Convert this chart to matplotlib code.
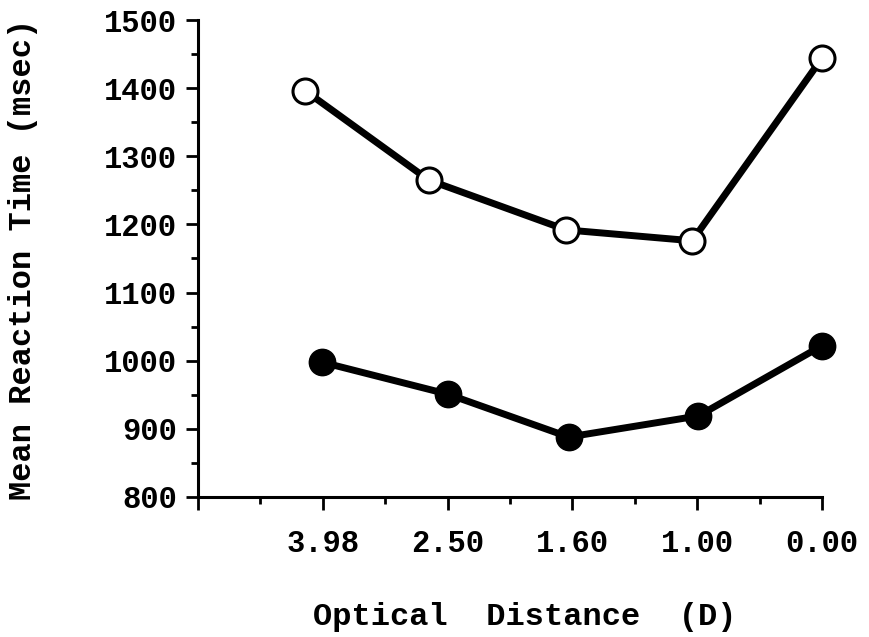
import matplotlib
matplotlib.use("Agg")
import matplotlib.pyplot as plt
from matplotlib.ticker import MultipleLocator, FixedLocator

# categories along the x axis (equally spaced)
cat_pos = [0, 1, 2, 3, 4, 5]
cat_labels = ["", "3.98", "2.50", "1.60", "1.00", "0.00"]

# open circles (upper series)
open_x = [0.86, 1.85, 2.95, 3.96, 5.0]
open_rt = [1396, 1265, 1192, 1176, 1444]

# filled circles (lower series)
filled_x = [0.99, 2.0, 2.97, 4.01, 5.0]
filled_rt = [998, 951, 888, 919, 1022]

FONT = "Liberation Mono"
TICK_FS = 22
LABEL_FS = 23

fig = plt.figure(figsize=(8.7, 6.37), dpi=100)
ax = fig.add_axes([0.2276, 0.2198, 0.7172, 0.7488])

ax.plot(open_x, open_rt, color="black", lw=5, marker="o", ms=18,
        mfc="white", mec="black", mew=2.2, clip_on=False, zorder=3)
ax.plot(filled_x, filled_rt, color="black", lw=5, marker="o", ms=19,
        mfc="black", mec="black", clip_on=False, zorder=3)

ax.set_xlim(0, 5)
ax.set_ylim(800, 1500)
for s in ("top", "right"):
    ax.spines[s].set_visible(False)
for s in ("left", "bottom"):
    ax.spines[s].set_linewidth(2.2)

ax.xaxis.set_major_locator(FixedLocator(cat_pos))
ax.set_xticklabels(cat_labels)
ax.xaxis.set_minor_locator(FixedLocator([0.5, 1.5, 2.5, 3.5, 4.5]))
ax.yaxis.set_major_locator(MultipleLocator(100))
ax.yaxis.set_minor_locator(MultipleLocator(50))

ax.tick_params(axis="both", which="major", length=9, width=2, direction="out")
ax.tick_params(axis="both", which="minor", length=5, width=2, direction="out")
ax.tick_params(axis="x", which="major", pad=14)
ax.tick_params(axis="y", which="major", pad=6)
for lab in ax.get_xticklabels() + ax.get_yticklabels():
    lab.set_fontfamily(FONT)
    lab.set_fontweight("bold")
    lab.set_fontsize(TICK_FS)

fig.text(0.603, 1 - 617 / 637, "Optical  Distance  (D)", ha="center", va="center",
         fontfamily=FONT, fontweight="bold", fontsize=LABEL_FS)
fig.text(0.026, 1 - 259 / 637, "Mean Reaction Time (msec)", ha="center", va="center",
         rotation=90, fontfamily=FONT, fontweight="bold", fontsize=LABEL_FS)

fig.savefig("out.png", dpi=100, facecolor="white")
